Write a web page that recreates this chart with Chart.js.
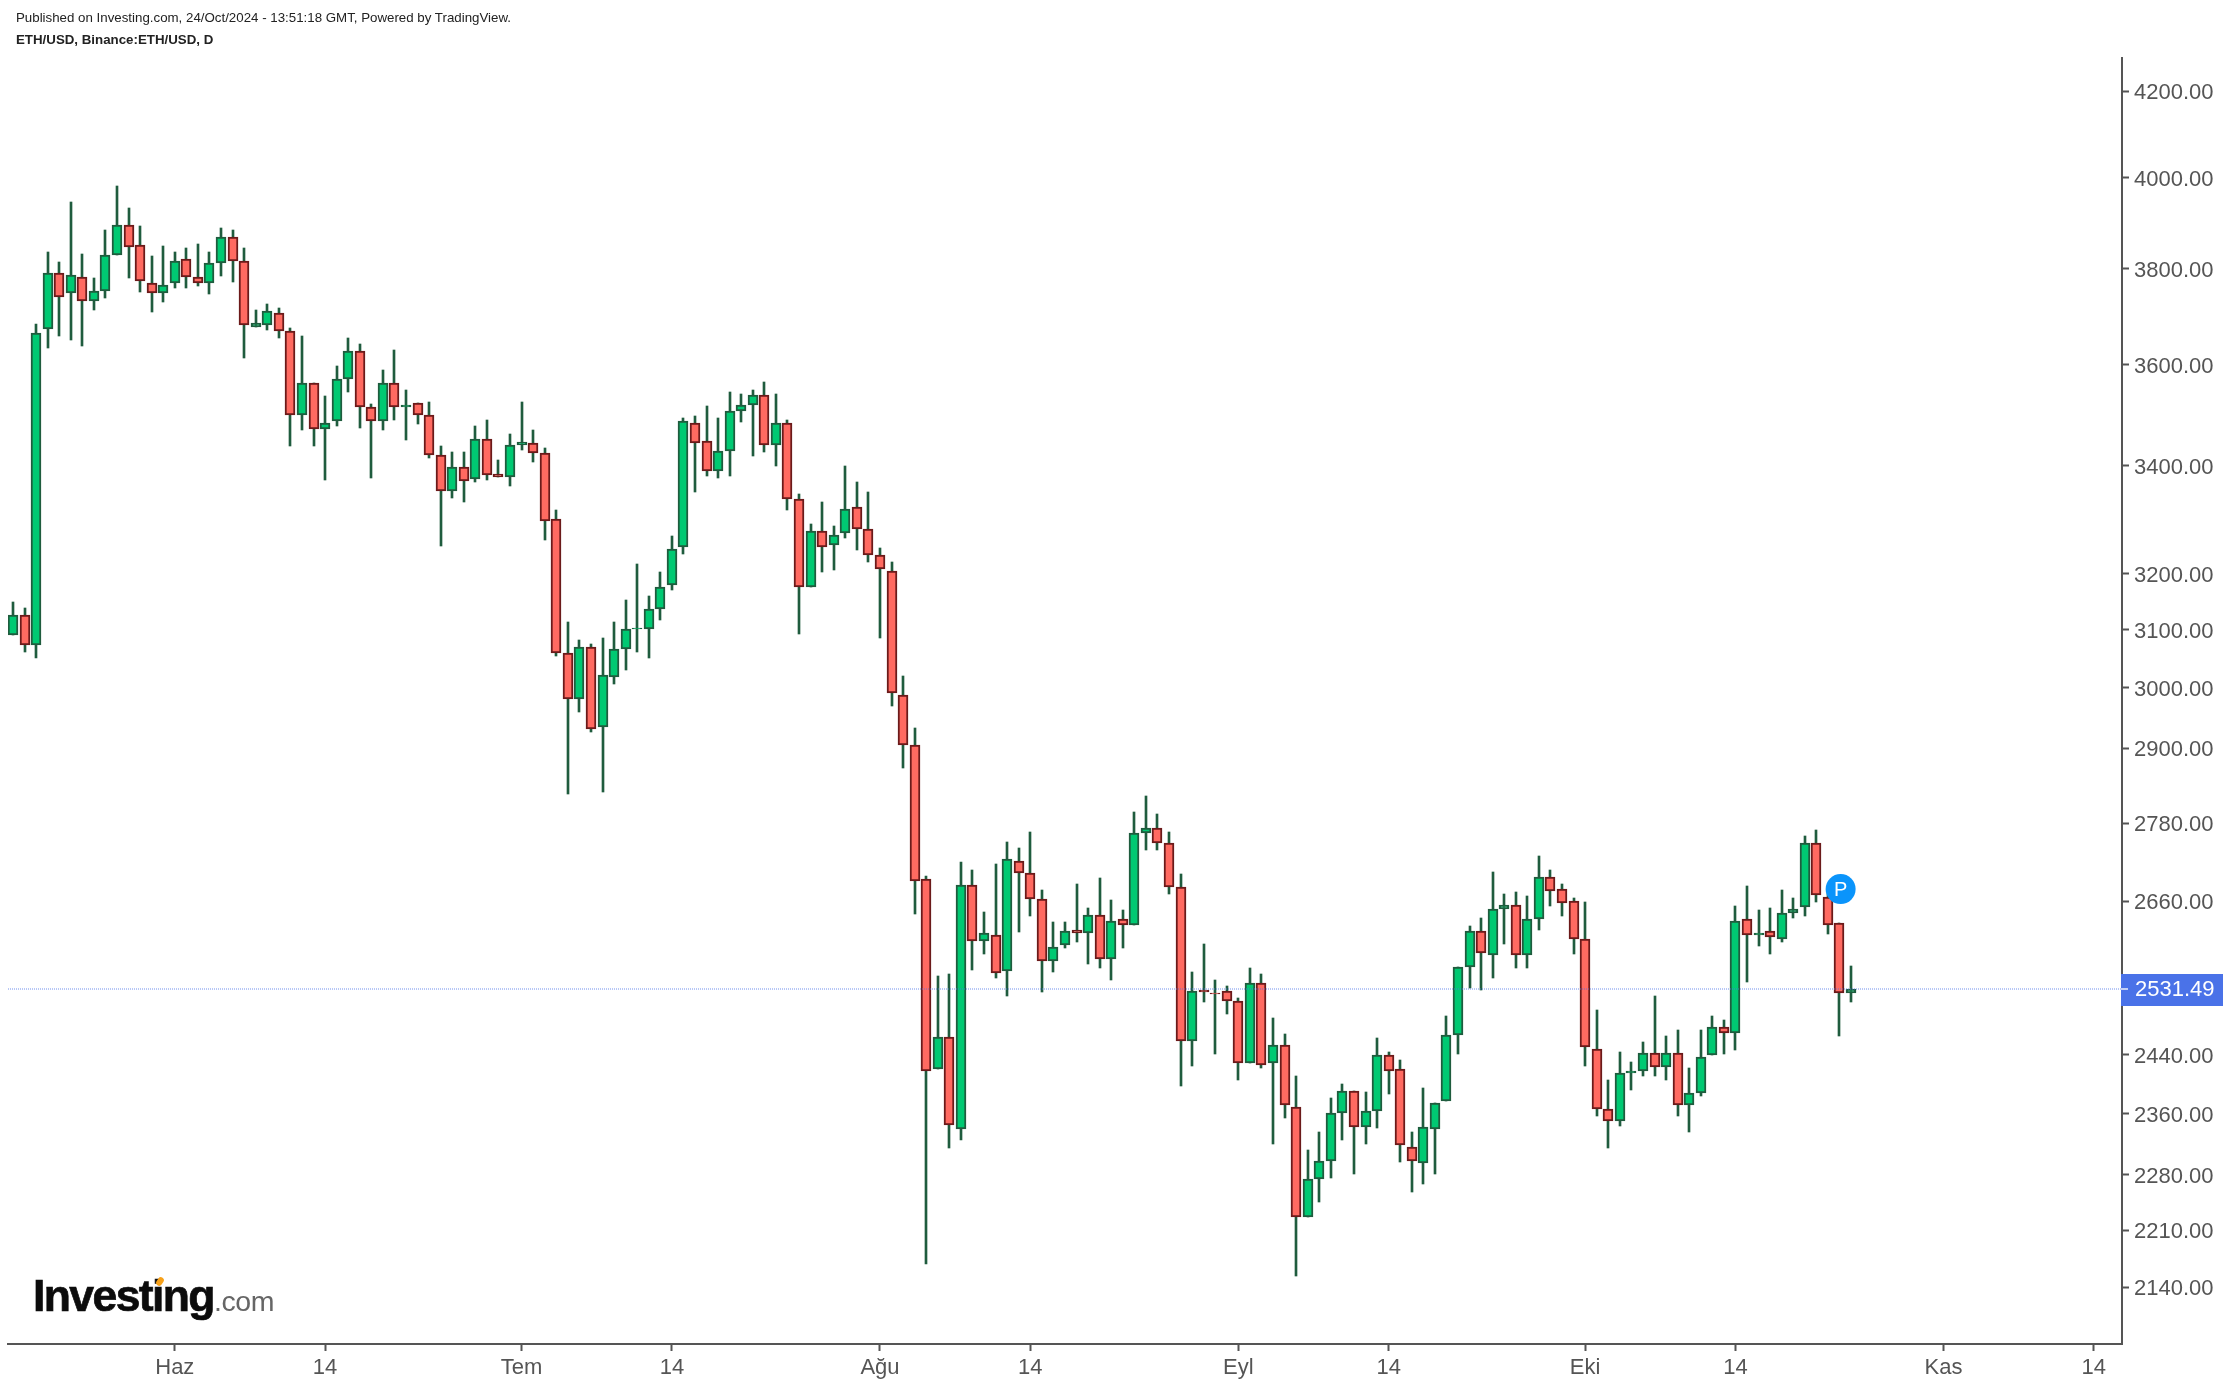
<!DOCTYPE html>
<html>
<head>
<meta charset="utf-8">
<title>ETH/USD</title>
<script src="https://cdn.jsdelivr.net/npm/chart.js@4/dist/chart.umd.min.js"></script>
<style>
  html, body { margin: 0; padding: 0; background: #fff; }
  #wrap { position: relative; width: 2230px; height: 1386px; overflow: hidden; }
  canvas { position: absolute; left: 0; top: 0; }
  .note { position: absolute; left: 16px; font-family: "Liberation Sans", Arial, sans-serif; color: #222; white-space: nowrap; }
  #published { top: 10px; font-size: 13.3px; }
  #symbol { top: 32px; font-size: 13.3px; font-weight: bold; }
  #logo { position: absolute; left: 33px; top: 1271px; white-space: nowrap; font-family: "Liberation Sans", Arial, sans-serif; }
  #logo b { font-size: 44.5px; letter-spacing: -1.6px; color: #0c0c0c; -webkit-text-stroke: 0.7px #0c0c0c; }
  #logo span { font-size: 28.5px; color: #666; letter-spacing: -0.4px; }
  #logo i { position: absolute; left: 124px; top: 6px; width: 6px; height: 9px; background: #f7a11a; border-radius: 3px; transform: rotate(35deg); }
</style>
</head>
<body>
<div id="wrap">
  <canvas id="priceChart" width="2230" height="1386"></canvas>
  <div class="note" id="published">Published on Investing.com, 24/Oct/2024 - 13:51:18 GMT, Powered by TradingView.</div>
  <div class="note" id="symbol">ETH/USD, Binance:ETH/USD, D</div>
  <div id="logo"><i></i><b>Investing</b><span>.com</span></div>
</div>
<script>
// daily candles 18 May - 24 Oct 2024
const opens = [
  3091, 3126, 3074, 3673, 3791, 3748, 3782, 3731, 3752, 3830,
  3895, 3851, 3769, 3748, 3769, 3821, 3782, 3769, 3812, 3868,
  3817, 3677, 3681, 3706, 3669, 3499, 3563, 3472, 3487, 3571,
  3628, 3515, 3487, 3563, 3515, 3523, 3499, 3421, 3352, 3398,
  3375, 3452, 3385, 3379, 3440, 3444, 3425, 3300, 3060, 2981,
  3070, 2935, 3019, 3067, 3101, 3101, 3137, 3179, 3248, 3484,
  3448, 3391, 3429, 3507, 3519, 3539, 3440, 3484, 3337, 3176,
  3278, 3252, 3274, 3322, 3281, 3234, 3205, 2988, 2905, 2694,
  2420, 2464, 2340, 2685, 2601, 2610, 2558, 2721, 2703, 2664,
  2572, 2595, 2618, 2613, 2640, 2575, 2634, 2625, 2765, 2772,
  2749, 2682, 2459, 2530, 2526, 2529, 2515, 2428, 2540, 2428,
  2453, 2369, 2227, 2275, 2298, 2361, 2390, 2342, 2364, 2439,
  2420, 2316, 2295, 2340, 2377, 2467, 2564, 2616, 2581, 2649,
  2655, 2581, 2634, 2697, 2679, 2661, 2604, 2448, 2366, 2350,
  2415, 2418, 2442, 2423, 2442, 2372, 2388, 2439, 2478, 2470,
  2634, 2610, 2616, 2604, 2643, 2652, 2749, 2667, 2628, 2526,
];
const highs = [
  3149, 3138, 3683, 3836, 3814, 3946, 3832, 3780, 3884, 3981,
  3932, 3893, 3827, 3849, 3836, 3845, 3853, 3836, 3888, 3884,
  3845, 3713, 3725, 3717, 3675, 3658, 3563, 3537, 3597, 3654,
  3642, 3521, 3589, 3630, 3549, 3523, 3525, 3438, 3427, 3427,
  3478, 3489, 3412, 3462, 3525, 3470, 3435, 3317, 3114, 3082,
  3075, 3086, 3114, 3153, 3217, 3160, 3203, 3268, 3493, 3497,
  3517, 3493, 3545, 3541, 3549, 3565, 3541, 3489, 3347, 3291,
  3332, 3287, 3400, 3369, 3350, 3246, 3221, 3020, 2933, 2698,
  2551, 2553, 2720, 2708, 2644, 2717, 2750, 2741, 2766, 2677,
  2629, 2629, 2686, 2650, 2695, 2662, 2647, 2798, 2823, 2794,
  2766, 2701, 2556, 2597, 2545, 2536, 2519, 2562, 2553, 2491,
  2468, 2411, 2312, 2336, 2381, 2400, 2390, 2389, 2463, 2444,
  2433, 2336, 2394, 2374, 2494, 2564, 2623, 2635, 2704, 2671,
  2674, 2668, 2729, 2708, 2686, 2665, 2659, 2502, 2405, 2444,
  2430, 2457, 2522, 2466, 2474, 2422, 2474, 2494, 2488, 2653,
  2683, 2647, 2650, 2677, 2665, 2760, 2769, 2672, 2628, 2565,
];
const lows = [
  3091, 3062, 3051, 3634, 3658, 3650, 3638, 3713, 3738, 3830,
  3780, 3750, 3708, 3729, 3759, 3759, 3763, 3746, 3784, 3772,
  3613, 3677, 3671, 3654, 3438, 3470, 3438, 3373, 3478, 3545,
  3474, 3377, 3470, 3489, 3450, 3482, 3415, 3250, 3339, 3332,
  3369, 3373, 3379, 3362, 3431, 3408, 3261, 3055, 2826, 2960,
  2927, 2829, 3007, 3031, 3062, 3051, 3117, 3170, 3235, 3350,
  3381, 3377, 3381, 3485, 3419, 3427, 3400, 3317, 3093, 3176,
  3203, 3206, 3265, 3243, 3221, 3086, 2970, 2868, 2641, 2168,
  2420, 2315, 2325, 2559, 2582, 2548, 2522, 2615, 2638, 2527,
  2556, 2591, 2600, 2568, 2562, 2545, 2591, 2625, 2738, 2738,
  2671, 2397, 2424, 2513, 2441, 2497, 2405, 2428, 2422, 2320,
  2354, 2154, 2227, 2245, 2276, 2325, 2281, 2320, 2341, 2386,
  2297, 2258, 2268, 2281, 2377, 2441, 2533, 2530, 2548, 2597,
  2562, 2562, 2618, 2653, 2638, 2582, 2424, 2357, 2315, 2344,
  2392, 2411, 2411, 2405, 2357, 2336, 2384, 2439, 2441, 2446,
  2542, 2594, 2582, 2600, 2635, 2638, 2659, 2612, 2466, 2513,
];
const closes = [
  3126, 3074, 3665, 3791, 3740, 3787, 3731, 3752, 3830, 3895,
  3847, 3774, 3748, 3765, 3817, 3782, 3769, 3812, 3868, 3817,
  3681, 3685, 3711, 3669, 3499, 3563, 3472, 3484, 3571, 3628,
  3515, 3487, 3563, 3515, 3519, 3499, 3421, 3352, 3398, 3371,
  3452, 3383, 3379, 3440, 3446, 3425, 3296, 3060, 2981, 3070,
  2932, 3022, 3067, 3101, 3103, 3137, 3176, 3244, 3487, 3444,
  3391, 3429, 3507, 3519, 3539, 3440, 3484, 3337, 3176, 3278,
  3248, 3270, 3319, 3281, 3234, 3208, 2991, 2905, 2691, 2418,
  2464, 2345, 2685, 2601, 2613, 2555, 2724, 2703, 2664, 2572,
  2592, 2616, 2613, 2640, 2575, 2631, 2625, 2765, 2772, 2749,
  2682, 2459, 2529, 2527, 2524, 2515, 2428, 2540, 2426, 2453,
  2372, 2227, 2275, 2298, 2361, 2390, 2342, 2364, 2439, 2418,
  2319, 2298, 2342, 2374, 2467, 2564, 2616, 2584, 2649, 2655,
  2581, 2634, 2697, 2675, 2658, 2604, 2450, 2366, 2350, 2415,
  2418, 2442, 2423, 2442, 2372, 2388, 2436, 2478, 2470, 2631,
  2610, 2613, 2607, 2643, 2649, 2749, 2669, 2625, 2526, 2531.49,
];

const priceTicks = [4200, 4000, 3800, 3600, 3400, 3200, 3100, 3000, 2900, 2780, 2660, 2440, 2360, 2280, 2210, 2140];
const timeTickIndexes = [14, 27, 44, 57, 75, 88, 106, 119, 136, 149, 167, 180];
const timeTickLabels = ['Haz', '14', 'Tem', '14', 'Ağu', '14', 'Eyl', '14', 'Eki', '14', 'Kas', '14'];
const lastPrice = 2531.49;
const badgeIndex = 158.1;
const badgePrice = 2678.5;

const axisColor = '#555555';
const wickColor = '#1f5c3e';
const font = '"Liberation Sans", Arial, sans-serif';

const wickData = highs.map((high, i) => ({ x: i, y: [lows[i], high] }));
const bodyData = opens.map((open, i) => ({ x: i, y: [open, closes[i]] }));
const isUp = (i) => closes[i] >= opens[i];

// candles sit on whole pixels in the original, so no blurry edges here either
const snapBars = {
  id: 'snapBars',
  afterDatasetsUpdate(chart) {
    chart.data.datasets.forEach((dataset, i) => {
      chart.getDatasetMeta(i).data.forEach((bar) => {
        bar.x = Math.round(bar.x);
        bar.y = Math.round(bar.y);
        bar.base = Math.round(bar.base);
      });
    });
  },
};

const overlays = {
  id: 'overlays',
  afterDatasetsDraw(chart) {
    const { ctx, chartArea, scales } = chart;
    const y = Math.round(scales.y.getPixelForValue(lastPrice));
    ctx.save();
    ctx.strokeStyle = 'rgba(74, 114, 232, 0.4)';
    ctx.lineWidth = 2;
    ctx.setLineDash([1, 1]);
    ctx.beginPath();
    ctx.moveTo(chartArea.left, y);
    ctx.lineTo(chartArea.right, y);
    ctx.stroke();
    ctx.restore();
  },
  afterDraw(chart) {
    const { ctx, chartArea, scales } = chart;
    const y = Math.round(scales.y.getPixelForValue(lastPrice));
    ctx.save();
    // last price tag on the axis
    ctx.fillStyle = '#4a72e8';
    ctx.fillRect(chartArea.right - 1, y - 15, 102, 32);
    ctx.fillStyle = '#c4d0f6';
    ctx.fillRect(chartArea.right - 1, y - 1, 7, 2);
    ctx.fillStyle = '#ffffff';
    ctx.font = '22px ' + font;
    ctx.textAlign = 'left';
    ctx.textBaseline = 'middle';
    ctx.fillText(lastPrice.toFixed(2), chartArea.right + 13, y + 1);
    // the P marker
    const bx = scales.x.getPixelForValue(badgeIndex);
    const by = scales.y.getPixelForValue(badgePrice);
    ctx.fillStyle = '#0a94fb';
    ctx.beginPath();
    ctx.arc(bx, by, 15, 0, Math.PI * 2);
    ctx.fill();
    ctx.fillStyle = '#ffffff';
    ctx.font = '20px ' + font;
    ctx.textAlign = 'center';
    ctx.fillText('P', bx, by + 1);
    ctx.restore();
  },
};

new Chart('priceChart', {
  type: 'bar',
  data: {
    datasets: [
      {
        data: wickData,
        backgroundColor: wickColor,
        borderWidth: 0,
        barThickness: 2,
        grouped: false,
        order: 2,
      },
      {
        data: bodyData,
        backgroundColor: opens.map((o, i) => (isUp(i) ? '#00c972' : '#ff6a61')),
        borderColor: opens.map((o, i) => (isUp(i) ? '#1f5c3e' : '#6b1a1a')),
        borderWidth: 2,
        borderSkipped: false,
        barThickness: 10,
        grouped: false,
        order: 1,
      },
    ],
  },
  options: {
    responsive: false,
    animation: false,
    events: [],
    layout: { padding: { left: 8, top: 58, right: 0, bottom: 0 } },
    plugins: { legend: { display: false }, title: { display: false }, tooltip: { enabled: false } },
    scales: {
      x: {
        type: 'linear',
        offset: false,
        min: -0.43,
        max: 182.44,
        afterFit(scale) {
          scale.height = 42;
        },
        afterBuildTicks(scale) {
          scale.ticks = timeTickIndexes.map((value) => ({ value }));
        },
        border: { color: axisColor, width: 2 },
        grid: { offset: false, drawOnChartArea: false, color: axisColor, tickLength: 7, tickWidth: 2 },
        ticks: {
          autoSkip: false,
          maxRotation: 0,
          padding: 4,
          color: axisColor,
          font: { family: font, size: 22 },
          callback: (value) => timeTickLabels[timeTickIndexes.indexOf(value)],
        },
      },
      y: {
        type: 'logarithmic',
        position: 'right',
        min: 2072.6,
        max: 4278.9,
        afterFit(scale) {
          scale.width = 108;
        },
        afterBuildTicks(scale) {
          scale.ticks = priceTicks.map((value) => ({ value }));
        },
        border: { color: axisColor, width: 2 },
        grid: { drawOnChartArea: false, color: axisColor, tickLength: 7, tickWidth: 2 },
        ticks: {
          autoSkip: false,
          padding: 5,
          labelOffset: 2,
          color: axisColor,
          font: { family: font, size: 22 },
          callback: (value) => value.toFixed(2),
        },
      },
    },
  },
  plugins: [snapBars, overlays],
});
</script>
</body>
</html>
